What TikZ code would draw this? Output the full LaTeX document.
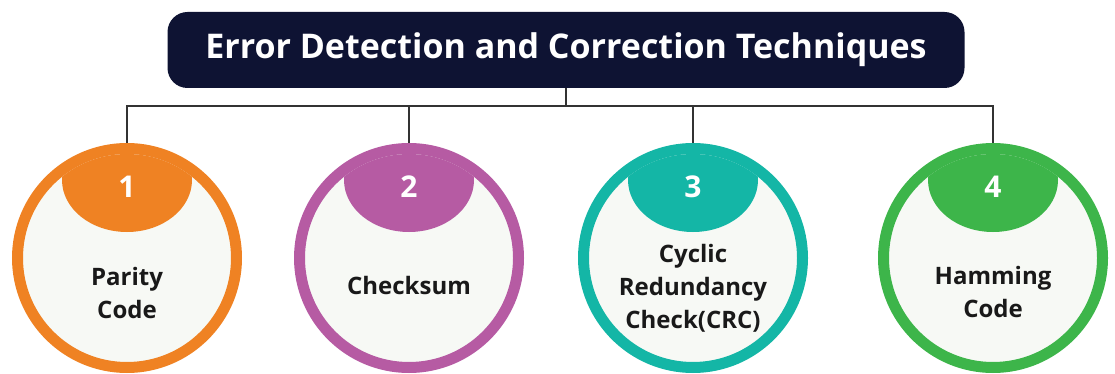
\documentclass[tikz,border=0pt]{standalone}
\usepackage{fontspec}
\setmainfont{Open Sans}
\definecolor{navy}{HTML}{0E1333}
\definecolor{corange}{HTML}{EF8223}
\definecolor{cpurple}{HTML}{B65BA3}
\definecolor{cteal}{HTML}{14B6A6}
\definecolor{cgreen}{HTML}{3DB54A}
\definecolor{inner}{HTML}{F7F9F5}
\definecolor{wire}{HTML}{333333}
\begin{document}
\begin{tikzpicture}[x=1pt,y=-1pt,
  ring/.style={circle, draw=#1, line width=11pt, fill=inner, minimum size=219pt, inner sep=0pt},
  numtext/.style={text=white, font=\bfseries\fontsize{30}{32}\selectfont},
  label/.style={text=black!90, align=center, font=\bfseries\fontsize{24}{33}\selectfont},
  wireline/.style={draw=wire, line width=1.6pt}]
\useasboundingbox (0,0) rectangle (1115,374);
\node[fill=navy, rounded corners=20pt, minimum width=797pt, minimum height=76pt, text=white,
  font=\bfseries\fontsize{34}{36}\selectfont] (title) at (566,50) {Error Detection and Correction Techniques};
\coordinate (bus) at (560,106);
\foreach \i/\x/\c/\n in {1/127/corange/1, 2/409/cpurple/2, 3/693/cteal/3, 4/993/cgreen/4}{
  \node[ring=\c] (c\i) at (\x,258) {};
  \begin{scope}
    \clip (c\i.center) circle (104pt);
    \fill[\c] (\x,180) ellipse [x radius=65pt, y radius=52pt];
  \end{scope}
  \node[numtext] (n\i) at (\x,187) {\n};
}
\node[label] (l1) at (127,293) {Parity\\Code};
\node[label] (l2) at (409,285) {Checksum};
\node[label] (l3) at (693,288) {Cyclic\\Redundancy\\Check(CRC)};
\node[label] (l4) at (993,292) {Hamming\\Code};
\draw[wireline] (title.south) -- (title.south |- bus);
\draw[wireline] (c1.north) -- (c1.north |- bus) -- (c4.north |- bus) -- (c4.north);
\draw[wireline] (c2.north) -- (c2.north |- bus);
\draw[wireline] (c3.north) -- (c3.north |- bus);
\end{tikzpicture}
\end{document}
